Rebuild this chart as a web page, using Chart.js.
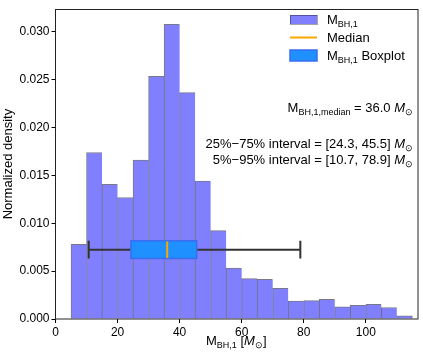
<!DOCTYPE html>
<html>
<head>
<meta charset="utf-8">
<script src="https://cdn.jsdelivr.net/npm/chart.js@4.4.0/dist/chart.umd.min.js"></script>
<style>
  html, body { margin: 0; padding: 0; background: #fff; }
</style>
</head>
<body>
<canvas id="chart" width="423" height="355"></canvas>
<script>
// Histogram data (bin centres, normalized density)
const binCenters = [7.5, 12.5, 17.5, 22.5, 27.5, 32.5, 37.5, 42.5, 47.5, 52.5, 57.5,
                    62.5, 67.5, 72.5, 77.5, 82.5, 87.5, 92.5, 97.5, 102.5, 107.5, 112.5];
const density = [0.00779, 0.01739, 0.01407, 0.01269, 0.0166, 0.02535, 0.03077, 0.02364,
                 0.01441, 0.00923, 0.00532, 0.00422, 0.00415, 0.00319, 0.00188, 0.00192,
                 0.00206, 0.00127, 0.00144, 0.00154, 0.0012, 0.00034];

// Tick labels
const xTicks = [0, 20, 40, 60, 80, 100];
const yTicks = [0, 0.005, 0.01, 0.015, 0.02, 0.025, 0.03];

// Boxplot: low whisker, q1, median, q3, high whisker, drawn at this density level
const boxStats = [10.7, 24.3, 36.0, 45.5, 78.9];
const boxLevel = 0.00724;

const FONT = '"Liberation Sans", Arial, sans-serif';
Chart.defaults.font.family = FONT;
Chart.defaults.font.size = 12;
Chart.defaults.color = '#000';

const BASE = 13, SUB = 9;

// text with subscripts / italic pieces
function setFont(ctx, p) {
    ctx.font = (p.it ? 'italic ' : '') + (p.sub ? SUB : BASE) + 'px ' + FONT;
}

function drawRich(ctx, parts, x, y, align) {
    let w = 0;
    parts.forEach(p => { setFont(ctx, p); w += ctx.measureText(p.t).width; });
    let cx = align === 'right' ? x - w : align === 'center' ? x - w / 2 : x;
    ctx.textBaseline = 'alphabetic';
    ctx.textAlign = 'left';
    ctx.fillStyle = '#000';
    parts.forEach(p => {
        setFont(ctx, p);
        ctx.fillText(p.t, cx, y + (p.sub ? 3 : 0));
        cx += ctx.measureText(p.t).width;
    });
}

const msun = [{t: 'M', it: true}, {t: '⊙', sub: true}];

const extras = {
    id: 'extras',
    afterDatasetsDraw(chart) {
        const ctx = chart.ctx;
        const xs = chart.scales.x, ys = chart.scales.y;
        const area = chart.chartArea;
        const yc = ys.getPixelForValue(boxLevel);
        const px = boxStats.map(v => xs.getPixelForValue(v));
        const half = 8.8;

        ctx.save();
        // whiskers
        ctx.strokeStyle = '#333';
        ctx.lineWidth = 2;
        ctx.beginPath();
        ctx.moveTo(px[0], yc); ctx.lineTo(px[1], yc);
        ctx.moveTo(px[3], yc); ctx.lineTo(px[4], yc);
        ctx.moveTo(px[0], yc - half); ctx.lineTo(px[0], yc + half);
        ctx.moveTo(px[4], yc - half); ctx.lineTo(px[4], yc + half);
        ctx.stroke();
        // box
        ctx.fillStyle = '#1e90ff';
        ctx.fillRect(px[1], yc - half, px[3] - px[1], 2 * half);
        ctx.strokeStyle = '#3a6cf0';
        ctx.lineWidth = 1.5;
        ctx.strokeRect(px[1], yc - half, px[3] - px[1], 2 * half);
        // median
        ctx.strokeStyle = '#ffa500';
        ctx.lineWidth = 2;
        ctx.beginPath();
        ctx.moveTo(px[2], yc - half + 0.5); ctx.lineTo(px[2], yc + half - 0.5);
        ctx.stroke();

        // frame
        ctx.strokeStyle = '#222';
        ctx.lineWidth = 1;
        ctx.strokeRect(Math.round(area.left) - 0.5, Math.round(area.top) + 0.5,
                       Math.round(area.right - area.left) + 0.5, Math.round(area.bottom - area.top) - 0.5);

        // legend
        const lx = 290, lw = 27;
        ctx.fillStyle = '#8080ff';
        ctx.fillRect(lx, 15, lw, 9);
        ctx.strokeStyle = 'rgba(0,0,0,0.35)';
        ctx.lineWidth = 1;
        ctx.strokeRect(lx + 0.5, 15.5, lw, 9);
        ctx.strokeStyle = '#ffa500';
        ctx.lineWidth = 2;
        ctx.beginPath(); ctx.moveTo(lx, 37.5); ctx.lineTo(lx + lw, 37.5); ctx.stroke();
        ctx.fillStyle = '#1e90ff';
        ctx.fillRect(lx, 50, lw, 11);
        ctx.strokeStyle = '#3a6cf0';
        ctx.lineWidth = 1.5;
        ctx.strokeRect(lx, 50, lw, 11);
        drawRich(ctx, [{t: 'M'}, {t: 'BH,1', sub: true}], 327, 23.5, 'left');
        drawRich(ctx, [{t: 'Median'}], 327, 42, 'left');
        drawRich(ctx, [{t: 'M'}, {t: 'BH,1', sub: true}, {t: ' Boxplot'}], 327, 59.5, 'left');

        // annotations
        drawRich(ctx, [{t: 'M'}, {t: 'BH,1,median', sub: true}, {t: ' = 36.0 '}].concat(msun), 413, 112, 'right');
        drawRich(ctx, [{t: '25%\u221275% interval = [24.3, 45.5] '}].concat(msun), 413, 148, 'right');
        drawRich(ctx, [{t: '5%\u221295% interval = [10.7, 78.9] '}].concat(msun), 413, 163.5, 'right');

        // x axis title
        drawRich(ctx, [{t: 'M'}, {t: 'BH,1', sub: true}, {t: ' ['}].concat(msun, [{t: ']'}]),
                 (area.left + area.right) / 2, 345, 'center');
        ctx.restore();
    }
};

new Chart(document.getElementById('chart'), {
    type: 'bar',
    data: {
        datasets: [{
            label: 'M_BH,1',
            data: binCenters.map((c, i) => ({x: c, y: density[i]})),
            backgroundColor: '#8080ff',
            borderColor: 'rgba(30,30,60,0.6)',
            borderWidth: ctx => ({top: 1, left: 1, right: ctx.dataIndex === binCenters.length - 1 ? 1 : 0, bottom: 0}),
            borderSkipped: false,
            barPercentage: 1,
            categoryPercentage: 1
        }]
    },
    options: {
        responsive: false,
        animation: false,
        layout: { padding: { top: 5, right: 6, left: 0, bottom: 0 } },
        plugins: { legend: { display: false }, tooltip: { enabled: false } },
        scales: {
            x: {
                type: 'linear',
                min: 0,
                max: 116.5,
                offset: false,
                grid: { display: true, drawOnChartArea: false, drawTicks: true, tickLength: 4, tickColor: '#000', offset: false },
                border: { display: false },
                ticks: { padding: 2, includeBounds: false, color: '#000' },
                afterBuildTicks: s => { s.ticks = xTicks.map(v => ({value: v})); },
                afterFit: s => { s.height = 36; }
            },
            y: {
                min: 0,
                max: 0.03235,
                grid: { display: true, drawOnChartArea: false, drawTicks: true, tickLength: 4, tickColor: '#000' },
                border: { display: false },
                ticks: { padding: 2, includeBounds: false, color: '#000', callback: v => v.toFixed(3) },
                afterBuildTicks: s => { s.ticks = yTicks.map(v => ({value: v})); },
                title: { display: true, text: 'Normalized density', padding: { top: 1, bottom: 0 }, font: { size: 13 } },
                afterFit: s => { s.width = 55.5; }
            }
        }
    },
    plugins: [extras]
});
</script>
</body>
</html>
